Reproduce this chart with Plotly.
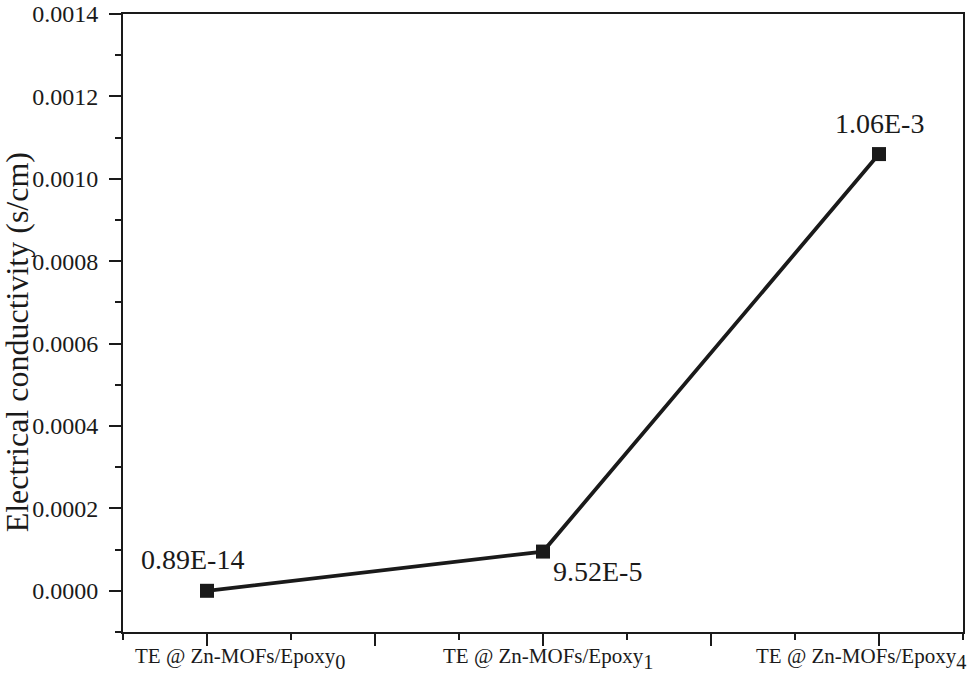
import plotly.graph_objects as go

# ---- data ----
category_base = "TE @ Zn-MOFs/Epoxy"
category_subs = ["0", "1", "4"]
conductivity = [0.89e-14, 9.52e-5, 1.06e-3]
value_labels = ["0.89E-14", "9.52E-5", "1.06E-3"]
y_title = "Electrical conductivity (s/cm)"

x_pos = [i + 1 for i in range(len(category_subs))]

FONT = "Liberation Serif, Times New Roman, serif"
INK = "#1a1a1a"

fig = go.Figure()
fig.add_trace(go.Scatter(
    x=x_pos, y=conductivity, mode="lines+markers",
    line=dict(color=INK, width=3.8),
    marker=dict(symbol="square", size=14, color=INK),
    showlegend=False, hoverinfo="skip",
))

# value labels (pixel offsets from their points)
label_shift = [(-15, 31), (54, -20), (0, 31)]
for xp, v, t, (dx, dy) in zip(x_pos, conductivity, value_labels, label_shift):
    fig.add_annotation(x=xp, y=v, xref="x", yref="y", text=t, showarrow=False,
                       xshift=dx, yshift=dy,
                       font=dict(family=FONT, size=28, color=INK))

# category labels below the axis
cat_shift = [33, 5, -18]
for xp, s, dx in zip(x_pos, category_subs, cat_shift):
    fig.add_annotation(
        x=xp, y=0, xref="x", yref="paper", yanchor="top", xanchor="center",
        text=f"{category_base}<span style='font-size:29px'><sub>{s}</sub></span>",
        showarrow=False, xshift=dx, yshift=-10,
        font=dict(family=FONT, size=21, color=INK))

# y-axis title
fig.add_annotation(x=-0.126, y=0.469, xref="paper", yref="paper",
                   text=y_title, textangle=-90, showarrow=False,
                   xanchor="center", yanchor="middle",
                   font=dict(family=FONT, size=32, color=INK))

fig.update_layout(
    width=971, height=683,
    margin=dict(l=123, r=8, t=14, b=51, autoexpand=False),
    paper_bgcolor="white", plot_bgcolor="white",
    font=dict(family=FONT, color=INK),
    xaxis=dict(
        range=[0.75, 3.25], showgrid=False, zeroline=False, automargin=False,
        showline=True, linecolor=INK, linewidth=2, mirror=True,
        tickmode="array", tickvals=[1, 1.5, 2, 2.5, 3],
        ticks="outside", ticklen=12, tickwidth=2, tickcolor=INK,
        showticklabels=False,
        minor=dict(tickmode="linear", tick0=0.75, dtick=0.25, ticks="outside",
                   ticklen=6, tickwidth=2, tickcolor=INK, showgrid=False),
    ),
    yaxis=dict(
        range=[-0.0001, 0.0014], showgrid=False, zeroline=False, automargin=False,
        showline=True, linecolor=INK, linewidth=2, mirror=True,
        tick0=0, dtick=0.0002, tickformat=".4f",
        ticks="outside", ticklen=12, tickwidth=2, tickcolor=INK,
        tickfont=dict(family=FONT, size=24, color=INK),
        ticklabelstandoff=6, ticklabeloverflow="allow",
        minor=dict(tick0=0, dtick=0.0001, ticks="outside", ticklen=6,
                   tickwidth=2, tickcolor=INK, showgrid=False),
    ),
)

# remove the page's default body margin so the figure fills the window exactly
fig.write_html("out.html", config={"displayModeBar": False},
               post_script="document.body.style.margin='0';")
